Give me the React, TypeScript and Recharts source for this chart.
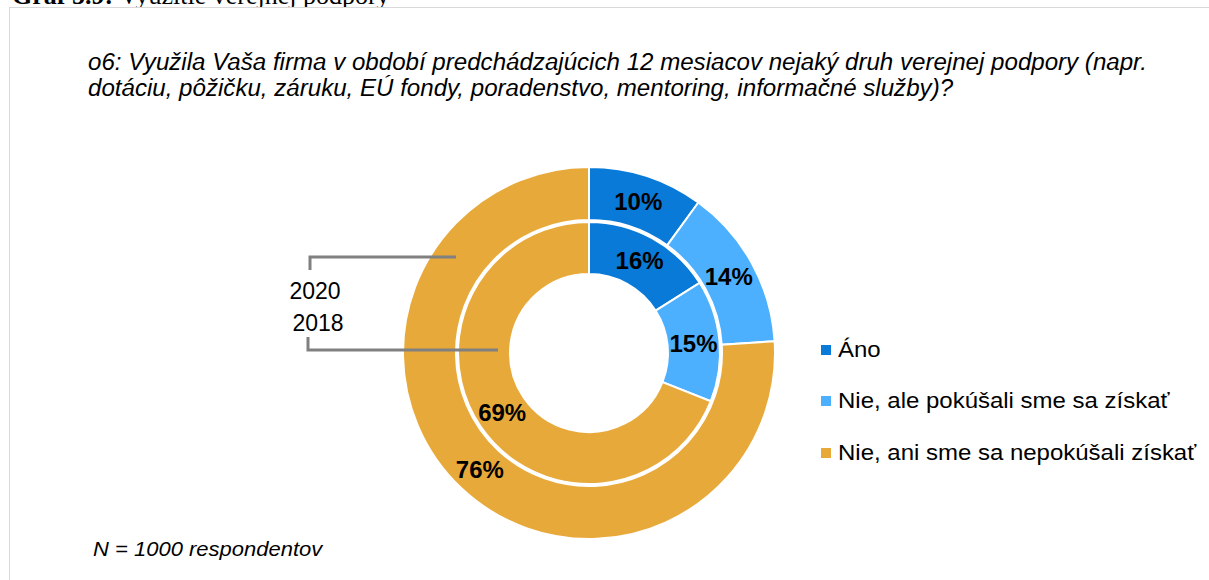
import React from 'react';
import { PieChart, Pie, Cell, Legend } from 'recharts';

const categories = ['Áno', 'Nie, ale pokúšali sme sa získať', 'Nie, ani sme sa nepokúšali získať'];
const values2020 = [10, 14, 76];
const values2018 = [16, 15, 69];
const ringLabels = ['2020', '2018'];
const colors = ['#0A7AD8', '#4DB0FF', '#E8A93B'];

const data2020 = categories.map((name, i) => ({ name, value: values2020[i] }));
const data2018 = categories.map((name, i) => ({ name, value: values2018[i] }));

const RAD = Math.PI / 180;
const font = '"Liberation Sans", Arial, sans-serif';

function renderLabel(props: any) {
  const { cx, cy, midAngle, innerRadius, outerRadius, value } = props;
  const r = (innerRadius + outerRadius) / 2;
  const x = cx + r * Math.cos(-midAngle * RAD);
  const y = cy + r * Math.sin(-midAngle * RAD);
  return (
    <text
      x={x}
      y={y}
      textAnchor="middle"
      dominantBaseline="central"
      fill="#000"
      fontSize={24}
      fontWeight="bold"
      fontFamily={font}
    >
      {value}%
    </text>
  );
}

function LegendBox() {
  return (
    <div style={{ fontFamily: font, fontSize: 22, color: '#000' }}>
      {categories.map((c, i) => (
        <div key={c} style={{ display: 'flex', alignItems: 'center', height: 51.5 }}>
          <span style={{ width: 10, height: 10, background: colors[i], marginRight: 7 }} />
          <span
            style={{
              display: 'inline-block',
              whiteSpace: 'nowrap',
              transform: 'scaleX(1.09)',
              transformOrigin: 'left center',
            }}
          >
            {c}
          </span>
        </div>
      ))}
    </div>
  );
}

export default function App() {
  return (
    <div
      style={{
        position: 'fixed',
        left: 0,
        top: 0,
        width: 1209,
        height: 580,
        overflow: 'hidden',
        background: '#fff',
      }}
    >
      <div
        style={{
          position: 'absolute',
          left: 12,
          top: -19,
          fontFamily: '"Liberation Serif", "Times New Roman", serif',
          fontSize: 26,
          fontWeight: 'bold',
          whiteSpace: 'nowrap',
        }}
      >
        Graf 5.9: <span style={{ fontWeight: 'normal' }}>Využitie verejnej podpory</span>
      </div>
      <div
        style={{
          position: 'absolute',
          left: 9,
          top: 7,
          width: 1300,
          height: 700,
          border: '1px solid #d9d9d9',
          background: '#fff',
        }}
      />
      <div
        style={{
          position: 'absolute',
          left: 88,
          top: 49,
          fontFamily: font,
          fontStyle: 'italic',
          fontSize: 23,
          lineHeight: '26px',
          color: '#000',
          whiteSpace: 'nowrap',
          transform: 'scaleX(1.048)',
          transformOrigin: 'left top',
        }}
      >
        o6: Využila Vaša firma v období predchádzajúcich 12 mesiacov nejaký druh verejnej podpory (napr.
        <br />
        dotáciu, pôžičku, záruku, EÚ fondy, poradenstvo, mentoring, informačné služby)?
      </div>
      <div
        style={{
          position: 'absolute',
          left: 93,
          top: 538,
          fontFamily: font,
          fontStyle: 'italic',
          fontSize: 20,
          color: '#000',
          whiteSpace: 'nowrap',
          transform: 'scaleX(1.1)',
          transformOrigin: 'left top',
        }}
      >
        N = 1000 respondentov
      </div>
      <div style={{ position: 'absolute', left: 0, top: 0 }}>
        <PieChart width={1209} height={580} margin={{ top: 0, right: 0, bottom: 0, left: 0 }}>
          <Pie
            data={data2020}
            dataKey="value"
            nameKey="name"
            cx={589}
            cy={353}
            innerRadius={133}
            outerRadius={186}
            startAngle={90}
            endAngle={-270}
            stroke="#fff"
            strokeWidth={2}
            label={renderLabel}
            labelLine={false}
            isAnimationActive={false}
          >
            {data2020.map((d, i) => (
              <Cell key={d.name} fill={colors[i]} />
            ))}
          </Pie>
          <Pie
            data={data2018}
            dataKey="value"
            nameKey="name"
            cx={589}
            cy={353}
            innerRadius={79}
            outerRadius={131}
            startAngle={90}
            endAngle={-270}
            stroke="#fff"
            strokeWidth={2}
            label={renderLabel}
            labelLine={false}
            isAnimationActive={false}
          >
            {data2018.map((d, i) => (
              <Cell key={d.name} fill={colors[i]} />
            ))}
          </Pie>
          <Legend
            layout="vertical"
            align="right"
            verticalAlign="top"
            content={() => <LegendBox />}
            wrapperStyle={{ left: 821, top: 324, width: 385 }}
          />
        </PieChart>
      </div>
      <svg
        width={1209}
        height={580}
        style={{ position: 'absolute', left: 0, top: 0, pointerEvents: 'none' }}
      >
        <polyline points="310,270 310,257 456,257" fill="none" stroke="#808080" strokeWidth={3} />
        <polyline points="308,337 308,350 498,350" fill="none" stroke="#808080" strokeWidth={3} />
        <text x={315} y={299} textAnchor="middle" fontFamily={font} fontSize={23} fill="#000">
          {ringLabels[0]}
        </text>
        <text x={318} y={331} textAnchor="middle" fontFamily={font} fontSize={23} fill="#000">
          {ringLabels[1]}
        </text>
      </svg>
    </div>
  );
}
